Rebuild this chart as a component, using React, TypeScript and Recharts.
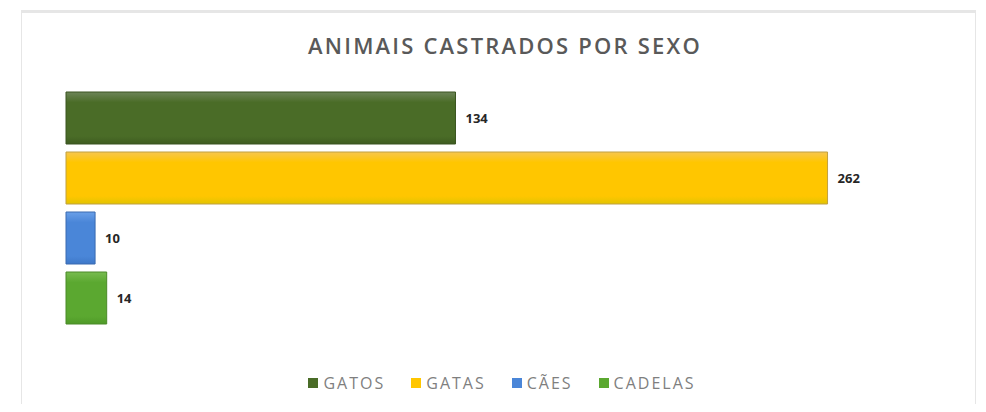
import { Bar, BarChart, LabelList, Legend, XAxis, YAxis } from 'recharts';

const seriesKeys = ['gatos', 'gatas', 'caes', 'cadelas'];
const seriesNames = ['GATOS', 'GATAS', 'CÃES', 'CADELAS'];
const seriesValues = [134, 262, 10, 14];
const seriesColors = ['#4a6c27', '#ffc600', '#4a86d8', '#5ba830'];
const seriesEdges = ['#3b5520', '#c0a040', '#3a6ab0', '#4a8a28'];
const seriesTops = ['#6d8458', '#f7c650', '#6aa0e8', '#78bc50'];
const seriesBottoms = ['#3e5c20', '#e2c400', '#3e78c8', '#4f9a28'];

const row: Record<string, string | number> = { name: 'Total' };
seriesKeys.forEach((k, i) => {
  row[k] = seriesValues[i];
});
const data = [row];

const font = '"Open Sans", Lato, sans-serif';

function LegendRow() {
  return (
    <div style={{ display: 'flex', justifyContent: 'center', fontFamily: font, fontSize: 16, letterSpacing: 2, color: '#7f7f7f' }}>
      {seriesNames.map((n, i) => (
        <span key={n} style={{ display: 'inline-flex', alignItems: 'center', marginRight: i < seriesNames.length - 1 ? 26 : 0 }}>
          <span style={{ width: 10, height: 10, background: seriesColors[i], marginRight: 5, display: 'inline-block' }} />
          {n}
        </span>
      ))}
    </div>
  );
}

export default function App() {
  return (
    <div style={{ position: 'relative', width: 970, height: 396, fontFamily: font }}>
      <div
        style={{
          position: 'absolute',
          left: 13,
          top: 2,
          width: 955,
          height: 399,
          border: '1px solid #e6e6e6',
          borderTopWidth: 3,
          boxSizing: 'border-box',
        }}
      />
      <div
        style={{
          position: 'absolute',
          left: 0,
          top: 22,
          width: 994,
          textAlign: 'center',
          fontSize: 22,
          fontWeight: 600,
          color: '#595959',
          letterSpacing: 2.2,
        }}
      >
        ANIMAIS CASTRADOS POR SEXO
      </div>
      <BarChart
        width={970}
        height={396}
        data={data}
        layout="vertical"
        margin={{ top: 78, right: 40, left: 58, bottom: 52 }}
        barGap={8}
        barCategoryGap={0}
      >
        <defs>
          {seriesKeys.map((k, i) => (
            <linearGradient key={k} id={`grad-${k}`} x1="0" y1="0" x2="0" y2="1">
              <stop offset="0%" stopColor={seriesTops[i]} />
              <stop offset="20%" stopColor={seriesColors[i]} />
              <stop offset="85%" stopColor={seriesColors[i]} />
              <stop offset="100%" stopColor={seriesBottoms[i]} />
            </linearGradient>
          ))}
        </defs>
        <XAxis type="number" domain={[0, 300]} hide />
        <YAxis
          type="category"
          dataKey="name"
          width={0}
          tick={false}
          tickLine={false}
          axisLine={{ stroke: '#d9d9d9' }}
        />
        <Legend verticalAlign="bottom" wrapperStyle={{ bottom: 10 }} content={() => <LegendRow />} />
        {seriesKeys.map((k, i) => (
          <Bar
            key={k}
            dataKey={k}
            name={seriesNames[i]}
            fill={`url(#grad-${k})`}
            stroke={seriesEdges[i]}
            strokeWidth={1}
            barSize={52}
            isAnimationActive={false}
          >
            <LabelList
              dataKey={k}
              position="right"
              offset={10}
              style={{ fill: '#262626', fontWeight: 700, fontSize: 13, fontFamily: font }}
            />
          </Bar>
        ))}
      </BarChart>
    </div>
  );
}
